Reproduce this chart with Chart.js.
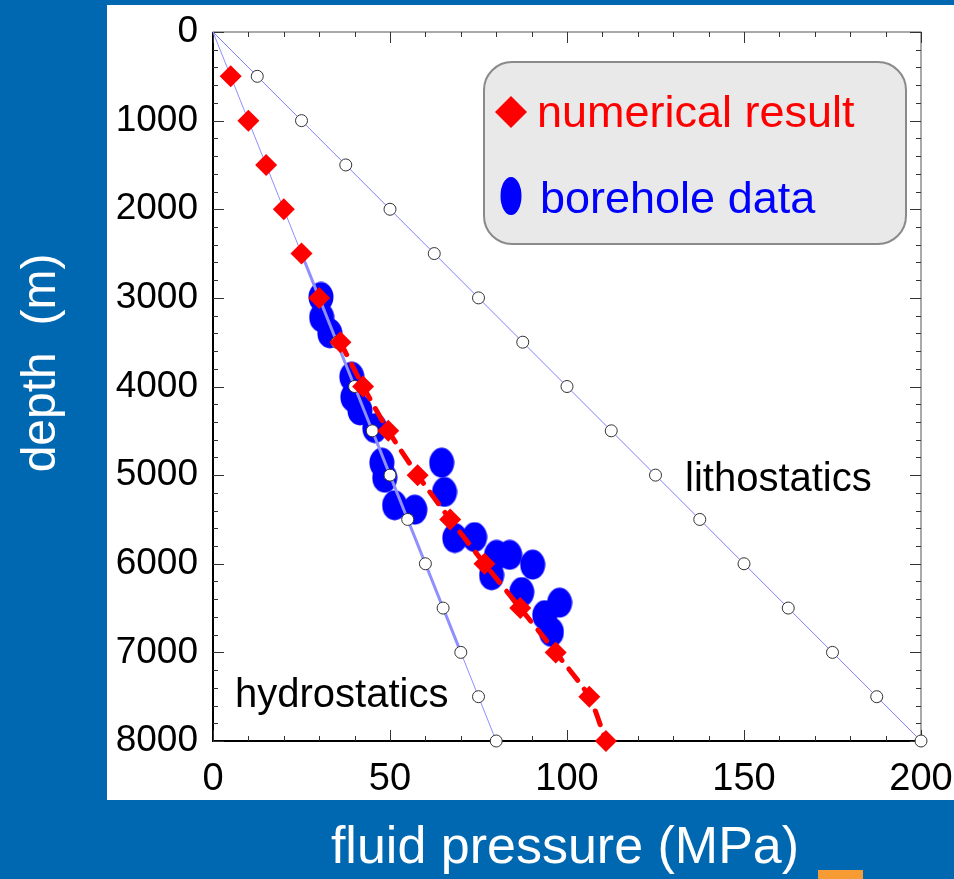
<!DOCTYPE html>
<html>
<head>
<meta charset="utf-8">
<script src="https://cdn.jsdelivr.net/npm/chart.js@4"></script>
<style>
  body { margin: 0; background: #0067b1; }
  canvas { display: block; }
</style>
</head>
<body>
<canvas id="pressureChart" width="954" height="879"></canvas>
<script>
// numerical result (diamonds + dashed curve)
const numDepth = [500, 1000, 1500, 2000, 2500, 3000, 3500, 4000, 4500, 5000, 5500, 6000, 6500, 7000, 7500, 8000];
const numPressure = [5, 10, 15, 20, 25, 30, 36, 42.4, 49.5, 57.8, 67, 76.7, 86.8, 96.8, 106.3, 111];

// borehole data (ellipses)
const boreDepth = [2990, 3220, 3400, 3890, 4120, 4270, 4470, 4860, 5030, 5340, 5390, 4860, 5190, 5710, 5700, 5900, 5900, 6010, 6130, 6320, 6440, 6580, 6770];
const borePressure = [30.5, 30.7, 33.0, 39.2, 39.5, 41.5, 45.7, 47.7, 48.5, 51.3, 57.0, 64.6, 65.4, 68.3, 73.9, 80.1, 83.8, 90.3, 78.7, 87.2, 97.9, 93.7, 95.6];

// reference gradients
const refDepth = [0, 500, 1000, 1500, 2000, 2500, 3000, 3500, 4000, 4500, 5000, 5500, 6000, 6500, 7000, 7500, 8000];
const hydroPressure = [0, 5, 10, 15, 20, 25, 30, 35, 40, 45, 50, 55, 60, 65, 70, 75, 80];
const lithoPressure = [0, 12.5, 25, 37.5, 50, 62.5, 75, 87.5, 100, 112.5, 125, 137.5, 150, 162.5, 175, 187.5, 200];

const xTicks = [0, 50, 100, 150, 200];
const yTicks = [0, 1000, 2000, 3000, 4000, 5000, 6000, 7000, 8000];

function pairs(xs, ys) {
    return xs.map((x, i) => ({ x: x, y: ys[i] }));
}

document.addEventListener("DOMContentLoaded", function() {
    // ellipse marker for borehole points
    const ell = document.createElement('canvas');
    ell.width = 26;
    ell.height = 31;
    const ec = ell.getContext('2d');
    ec.fillStyle = '#0000ff';
    ec.beginPath();
    ec.ellipse(13, 15.5, 12.5, 15, 0, 0, Math.PI * 2);
    ec.fill();

    const decor = {
        id: 'decor',
        beforeDraw(chart) {
            const c = chart.ctx;
            c.save();
            c.fillStyle = '#ffffff';
            c.fillRect(107, 5, 847, 795);
            c.fillStyle = '#f79b35';
            c.fillRect(818, 870, 45, 9);
            c.restore();
        },
        beforeDatasetsDraw(chart) {
            const c = chart.ctx;
            const a = chart.chartArea;
            const xs = chart.scales.x, ys = chart.scales.y;
            c.save();
            c.strokeStyle = '#555';
            c.lineWidth = 1;
            c.strokeRect(a.left, a.top, a.right - a.left, a.bottom - a.top);
            c.strokeStyle = '#000';
            c.lineWidth = 2;
            c.beginPath();
            c.moveTo(a.left, a.top);
            c.lineTo(a.left, a.bottom);
            c.lineTo(a.right, a.bottom);
            c.stroke();
            c.lineWidth = 1;
            c.strokeStyle = '#333';
            c.beginPath();
            for (let v = 0; v <= 8000; v += 200) {
                const y = Math.round(ys.getPixelForValue(v)) + 0.5;
                const len = v % 1000 === 0 ? 11 : 5;
                c.moveTo(a.left, y); c.lineTo(a.left + len, y);
                c.moveTo(a.right, y); c.lineTo(a.right - len, y);
            }
            for (let v = 0; v <= 200; v += 10) {
                const x = Math.round(xs.getPixelForValue(v)) + 0.5;
                const len = v % 50 === 0 ? 11 : 5;
                c.moveTo(x, a.bottom); c.lineTo(x, a.bottom - len);
                c.moveTo(x, a.top); c.lineTo(x, a.top + len);
            }
            c.stroke();
            c.restore();
        },
        afterDraw(chart) {
            const c = chart.ctx;
            c.save();
            c.font = '40px "Liberation Sans", Arial, sans-serif';
            c.fillStyle = '#000';
            c.textBaseline = 'alphabetic';
            c.fillText('lithostatics', 685, 491);
            c.fillText('hydrostatics', 235, 707);

            // legend box
            c.beginPath();
            c.roundRect(484, 62, 422, 182, 28);
            c.fillStyle = '#e9e9e9';
            c.fill();
            c.strokeStyle = '#8a8a8a';
            c.lineWidth = 2;
            c.stroke();
            c.fillStyle = '#ff0000';
            c.beginPath();
            c.moveTo(495, 112); c.lineTo(511, 96); c.lineTo(527, 112); c.lineTo(511, 128);
            c.closePath();
            c.fill();
            c.font = '45px "Liberation Sans", Arial, sans-serif';
            c.fillText('numerical result', 537, 127);
            c.fillStyle = '#0000ff';
            c.beginPath();
            c.ellipse(511, 196, 10.5, 19, 0, 0, Math.PI * 2);
            c.fill();
            c.fillText('borehole data', 540, 213);

            // axis titles
            c.fillStyle = '#ffffff';
            c.font = '52px "Liberation Sans", Arial, sans-serif';
            c.textAlign = 'center';
            c.textBaseline = 'middle';
            c.fillText('fluid pressure (MPa)', 565, 849);
            c.translate(42, 363);
            c.rotate(-Math.PI / 2);
            c.font = '48px "Liberation Sans", Arial, sans-serif';
            c.fillText('depth  (m)', 0, 0);
            c.restore();
        }
    };

    const ctx = document.getElementById('pressureChart').getContext('2d');
    new Chart(ctx, {
        type: 'scatter',
        data: {
            datasets: [{
                label: 'numerical result',
                data: pairs(numPressure, numDepth),
                showLine: true,
                borderColor: '#ff0000',
                borderWidth: 5,
                borderDash: [14, 11],
                borderCapStyle: 'round',
                tension: 0.2,
                segment: {
                    borderColor: s => s.p0.parsed.y < 3500 ? 'rgba(0,0,0,0)' : '#ff0000'
                },
                pointStyle: 'rectRot',
                pointRadius: 11,
                pointBackgroundColor: '#ff0000',
                pointBorderWidth: 0,
                clip: false,
                order: 1
            }, {
                label: 'hydrostatics',
                data: pairs(hydroPressure, refDepth),
                showLine: true,
                borderColor: '#8f8fff',
                borderWidth: 1,
                segment: {
                    borderWidth: s => (s.p0.parsed.y >= 2500 && s.p1.parsed.y <= 7000) ? 3 : 1
                },
                pointRadius: c => c.raw && c.raw.y === 0 ? 0 : 6,
                pointBackgroundColor: '#ffffff',
                pointBorderColor: '#333',
                pointBorderWidth: 1,
                clip: false,
                order: 2
            }, {
                label: 'lithostatics',
                data: pairs(lithoPressure, refDepth),
                showLine: true,
                borderColor: '#8080ff',
                borderWidth: 1,
                pointRadius: c => c.raw && c.raw.y === 0 ? 0 : 6,
                pointBackgroundColor: '#ffffff',
                pointBorderColor: '#333',
                pointBorderWidth: 1,
                clip: false,
                order: 3
            }, {
                label: 'borehole data',
                data: pairs(borePressure, boreDepth),
                pointStyle: ell,
                clip: false,
                order: 4
            }]
        },
        options: {
            responsive: false,
            animation: false,
            layout: { padding: { top: 32, right: 33, left: 0, bottom: 0 } },
            plugins: {
                legend: { display: false },
                tooltip: { enabled: false }
            },
            scales: {
                x: {
                    type: 'linear',
                    min: 0,
                    max: 200,
                    afterFit: s => {
                        s.height = 138;
                        s.paddingLeft = 0;
                        s.paddingRight = 0;
                    },
                    afterBuildTicks: s => { s.ticks = xTicks.map(v => ({ value: v })); },
                    grid: { display: false, drawTicks: false },
                    border: { display: false },
                    ticks: {
                        padding: 16,
                        color: '#000',
                        font: { family: '"Liberation Sans", Arial, sans-serif', size: 38 },
                        callback: v => String(v)
                    }
                },
                y: {
                    type: 'linear',
                    reverse: true,
                    min: 0,
                    max: 8000,
                    afterFit: s => {
                        s.width = 213;
                        s.paddingTop = 0;
                        s.paddingBottom = 0;
                    },
                    afterBuildTicks: s => { s.ticks = yTicks.map(v => ({ value: v })); },
                    grid: { display: false, drawTicks: false },
                    border: { display: false },
                    ticks: {
                        padding: 15,
                        color: '#000',
                        font: { family: '"Liberation Sans", Arial, sans-serif', size: 37 },
                        callback: v => String(v)
                    }
                }
            }
        },
        plugins: [decor]
    });
});
</script>
</body>
</html>
